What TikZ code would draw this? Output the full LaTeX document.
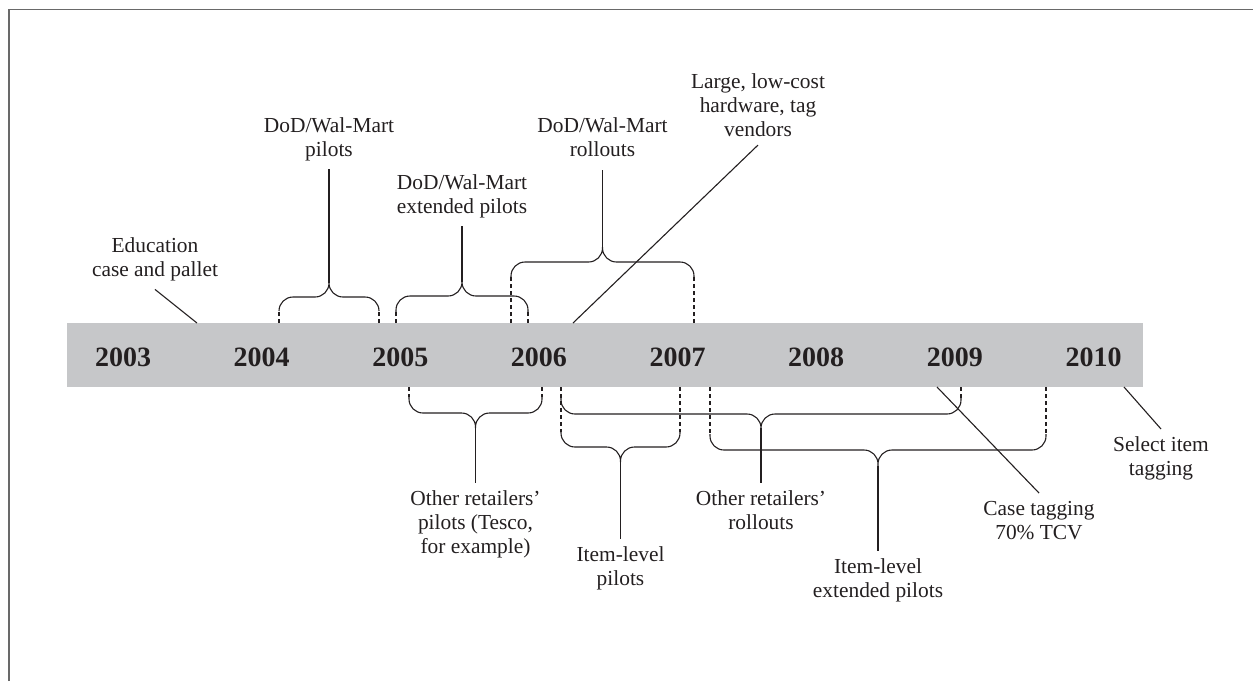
\documentclass[tikz,border=0pt]{standalone}
\usepackage{fontspec}
\setmainfont{Liberation Serif}
\definecolor{txt}{RGB}{35,31,32}
\definecolor{barfill}{RGB}{198,199,201}
\definecolor{frm}{RGB}{105,105,105}

\tikzstyle{lbl} = [align=center, inner sep=0pt, outer sep=8pt, font=\fontsize{21.4}{24}\selectfont, text=txt]
\tikzstyle{year} = [inner sep=0pt, font=\bfseries\fontsize{28}{30}\selectfont, text=txt]
\tikzstyle{ln} = [line width=1.1pt, draw=txt]
\tikzstyle{brc} = [line width=1.1pt, draw=txt, rounded corners=14pt]
\tikzstyle{dsh} = [line width=1.1pt, draw=txt, dash pattern=on 4pt off 3pt]

\begin{document}
\begin{tikzpicture}[x=1pt, y=-1pt]
    \useasboundingbox (0,0) rectangle (1253,681);
    \draw[line width=1.8pt, frm] (9,681) -- (9,9.5) -- (1253,9.5);
    \fill[barfill] (67,323) rectangle (1143,387);

    % years
    \node[year] (Y2003) at (123,357) {2003};
    \node[year] (Y2004) at (261.6,357) {2004};
    \node[year] (Y2005) at (400.3,357) {2005};
    \node[year] (Y2006) at (538.9,357) {2006};
    \node[year] (Y2007) at (677.6,357) {2007};
    \node[year] (Y2008) at (816.2,357) {2008};
    \node[year] (Y2009) at (954.8,357) {2009};
    \node[year] (Y2010) at (1093.5,357) {2010};

    % labels above the bar
    \node[lbl, anchor=north] (Edu) at (155,230) {Education\\case and pallet};
    \node[lbl, anchor=north] (Pil) at (329,110) {DoD/Wal-Mart\\pilots};
    \node[lbl, anchor=north] (ExtPil) at (462,167) {DoD/Wal-Mart\\extended pilots};
    \node[lbl, anchor=north, outer ysep=13pt] (Roll) at (602.5,105) {DoD/Wal-Mart\\rollouts};
    \node[lbl, anchor=north] (Large) at (758,66) {Large, low-cost\\hardware, tag\\vendors};

    % labels below the bar
    \node[lbl, anchor=north] (OthPil) at (475.5,483) {Other retailers'\\pilots (Tesco,\\for example)};
    \node[lbl, anchor=north] (ItemPil) at (620.5,539) {Item-level\\pilots};
    \node[lbl, anchor=north] (OthRoll) at (761,483) {Other retailers'\\rollouts};
    \node[lbl, anchor=north] (ItemExt) at (878,551) {Item-level\\extended pilots};
    \node[lbl, anchor=north] (Case) at (1039,493) {Case tagging\\70\% TCV};
    \node[lbl, anchor=north] (Sel) at (1161,429) {Select item\\tagging};

    % points on the bar
    \coordinate (EduB) at (197,323);
    \coordinate (LargeB) at (573,323);
    \coordinate (CaseB) at (937,387);
    \coordinate (SelB) at (1124,387);

    % brace tips
    \coordinate (PilT) at (329,283);
    \coordinate (ExtPilT) at (462,282);
    \coordinate (RollT) at (602.5,247);
    \coordinate (OthPilT) at (475.5,428);
    \coordinate (ItemPilT) at (620.5,462);
    \coordinate (OthRollT) at (761,428);
    \coordinate (ItemExtT) at (878,466);

    % braces above
    \draw[dsh] (279,323) -- (279,311) (379,323) -- (379,311);
    \draw[brc] (279,311) |- (329,297) -- (PilT) (379,311) |- (329,297) -- (PilT);
    \draw[dsh] (396,323) -- (396,312) (528,323) -- (528,312);
    \draw[brc] (396,312) |- (462,296) -- (ExtPilT) (528,312) |- (462,296) -- (ExtPilT);
    \draw[dsh] (511,323) -- (511,277) (694,323) -- (694,277);
    \draw[brc] (511,277) |- (602.5,262) -- (RollT) (694,277) |- (602.5,262) -- (RollT);

    % braces below
    \draw[dsh] (409,387) -- (409,397) (542,387) -- (542,397);
    \draw[brc] (409,397) |- (475.5,413) -- (OthPilT) (542,397) |- (475.5,413) -- (OthPilT);
    \draw[dsh] (561,387) -- (561,432) (680,387) -- (680,432);
    \draw[brc] (561,432) |- (620.5,447) -- (ItemPilT) (680,432) |- (620.5,447) -- (ItemPilT);
    \draw[dsh] (961,387) -- (961,398);
    \draw[brc] (561,398) |- (761,414) -- (OthRollT) (961,398) |- (761,414) -- (OthRollT);
    \draw[dsh] (710,387) -- (710,434) (1046,387) -- (1046,434);
    \draw[brc] (710,434) |- (878,450) -- (ItemExtT) (1046,434) |- (878,450) -- (ItemExtT);

    % stems and leaders
    \draw[ln] (PilT) -- (Pil);
    \draw[ln] (ExtPilT) -- (ExtPil);
    \draw[ln] (RollT) -- (Roll);
    \draw[ln] (OthPilT) -- (OthPil);
    \draw[ln] (ItemPilT) -- (ItemPil);
    \draw[ln] (OthRollT) -- (OthRoll);
    \draw[ln] (ItemExtT) -- (ItemExt);
    \draw[ln] (Edu.south) -- (EduB);
    \draw[ln] (Large.south) -- (LargeB);
    \draw[ln] (CaseB) -- (Case.north);
    \draw[ln] (SelB) -- (Sel.north);
\end{tikzpicture}
\end{document}
